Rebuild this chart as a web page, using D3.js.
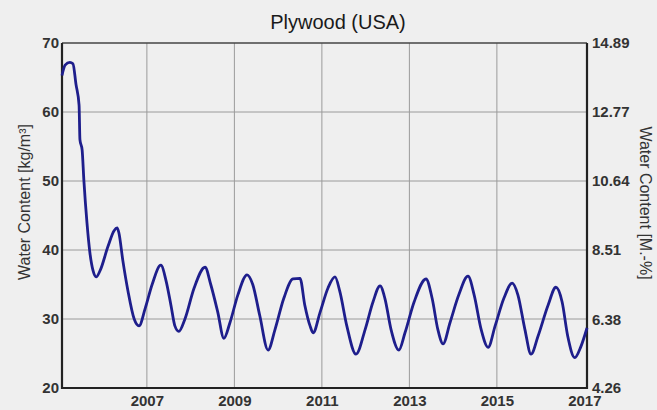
<!DOCTYPE html>
<html>
<head>
<meta charset="utf-8">
<script src="https://cdn.jsdelivr.net/npm/d3@7"></script>
<style>
  body { margin: 0; background: #efefef; overflow: hidden; }
  svg { display: block; }
  text { font-family: "Liberation Sans", Arial, sans-serif; }
</style>
</head>
<body>
<svg width="657" height="410"></svg>
<script>
// years (decimal) and water content in kg/m3
const years = [2005.06, 2005.13, 2005.24, 2005.31, 2005.38, 2005.45, 2005.47, 2005.52, 2005.56, 2005.63,
  2005.70, 2005.77, 2005.84, 2005.93, 2006.11, 2006.25, 2006.32, 2006.36, 2006.45, 2006.57,
  2006.71, 2006.82, 2006.96, 2007.12, 2007.32, 2007.44, 2007.55, 2007.64, 2007.73, 2007.87,
  2008.08, 2008.33, 2008.46, 2008.62, 2008.76, 2008.90, 2009.08, 2009.29, 2009.42, 2009.58,
  2009.77, 2009.93, 2010.13, 2010.34, 2010.50, 2010.61, 2010.73, 2010.80, 2010.96, 2011.14,
  2011.30, 2011.41, 2011.57, 2011.78, 2011.99, 2012.17, 2012.33, 2012.44, 2012.58, 2012.76,
  2012.90, 2013.11, 2013.38, 2013.52, 2013.65, 2013.77, 2013.93, 2014.13, 2014.34, 2014.48,
  2014.64, 2014.80, 2014.96, 2015.16, 2015.35, 2015.48, 2015.64, 2015.78, 2015.94, 2016.17,
  2016.35, 2016.49, 2016.62, 2016.78, 2016.92, 2017.06];
const waterContent = [65.3, 66.8, 67.2, 67.0, 64.0, 61.0, 56.0, 54.5, 50.1, 44.0,
  39.5, 37.0, 36.1, 37.0, 40.5, 42.8, 43.2, 42.5, 38.5, 34.0,
  30.0, 29.0, 31.5, 35.0, 37.8, 35.5, 32.0, 29.0, 28.2, 30.0,
  34.5, 37.5, 35.0, 31.0, 27.2, 29.5, 33.5, 36.4, 35.0, 30.5,
  25.5, 28.5, 33.0, 35.8, 35.9, 32.0, 29.0, 28.0, 31.0, 34.5,
  36.1, 34.0, 29.0, 24.9, 28.5, 32.5, 34.8, 33.0, 28.5, 25.5,
  28.0, 32.5, 35.8, 33.0, 28.5, 26.4, 29.5, 33.5, 36.2, 33.5,
  28.5, 25.9, 29.0, 33.0, 35.2, 33.5, 28.5, 24.9, 27.5, 32.0,
  34.6, 32.5, 27.5, 24.4, 26.0, 28.7];

// axis ticks
const leftTicks = [20, 30, 40, 50, 60, 70];
const rightTicks = [4.26, 6.38, 8.51, 10.64, 12.77, 14.89];
const xTicks = [2007, 2009, 2011, 2013, 2015, 2017];

const svg = d3.select('svg');
const width = +svg.attr('width');
const height = +svg.attr('height');
const margin = { top: 43, right: 70, bottom: 22, left: 62 };
const innerWidth = width - margin.left - margin.right;
const innerHeight = height - margin.top - margin.bottom;

// background
svg.append('rect')
  .attr('width', width)
  .attr('height', height)
  .attr('fill', '#efefef');

const xScale = d3.scaleLinear()
  .domain([2005.06, 2017.06])
  .range([0, innerWidth]);

const yScale = d3.scaleLinear()
  .domain([20, 70])
  .range([innerHeight, 0]);

// second scale for the mass percent on the right
const yRight = d3.scaleLinear()
  .domain([4.26, 14.89])
  .range([innerHeight, 0]);

const g = svg.append('g')
  .attr('transform', `translate(${margin.left}, ${margin.top})`);

// grid lines
g.append('g')
  .selectAll('line')
  .data(leftTicks.slice(1, -1))
  .join('line')
  .attr('x1', 0)
  .attr('x2', innerWidth)
  .attr('y1', d => yScale(d))
  .attr('y2', d => yScale(d))
  .attr('stroke', '#9a9a9a')
  .attr('stroke-width', 1);

g.append('g')
  .selectAll('line')
  .data(xTicks.slice(0, -1))
  .join('line')
  .attr('x1', d => xScale(d))
  .attr('x2', d => xScale(d))
  .attr('y1', 0)
  .attr('y2', innerHeight)
  .attr('stroke', '#9a9a9a')
  .attr('stroke-width', 1);

// left axis
const leftAxis = g.append('g')
  .call(d3.axisLeft(yScale).tickValues(leftTicks).tickSize(0).tickPadding(3));

// right axis
const rightAxis = g.append('g')
  .attr('transform', `translate(${innerWidth}, 0)`)
  .call(d3.axisRight(yRight).tickValues(rightTicks).tickFormat(d3.format('.2f')).tickSize(0).tickPadding(5));

// bottom axis
const bottomAxis = g.append('g')
  .attr('transform', `translate(0, ${innerHeight})`)
  .call(d3.axisBottom(xScale).tickValues(xTicks).tickFormat(d3.format('d')).tickSize(0).tickPadding(7));

[leftAxis, rightAxis, bottomAxis].forEach(a => {
  a.select('.domain').remove();
  a.selectAll('text')
    .attr('font-family', '"Liberation Sans", Arial, sans-serif')
    .attr('font-size', 15)
    .attr('font-weight', 'bold')
    .attr('fill', '#333');
});

// frame round the plot
g.append('line')
  .attr('x1', 0).attr('x2', innerWidth)
  .attr('y1', 0).attr('y2', 0)
  .attr('stroke', '#444').attr('stroke-width', 1.5);
g.append('path')
  .attr('d', `M0,0V${innerHeight}H${innerWidth}V0`)
  .attr('fill', 'none')
  .attr('stroke', '#222')
  .attr('stroke-width', 2.2);

// the water content line
const points = years.map((d, i) => [d, waterContent[i]]);
const line = d3.line()
  .x(d => xScale(d[0]))
  .y(d => yScale(d[1]))
  .curve(d3.curveMonotoneX);

g.append('path')
  .datum(points)
  .attr('d', line)
  .attr('fill', 'none')
  .attr('stroke', '#1e1e8c')
  .attr('stroke-width', 2.8)
  .attr('stroke-linejoin', 'round');

// title
svg.append('text')
  .attr('x', 338)
  .attr('y', 29)
  .attr('text-anchor', 'middle')
  .attr('font-size', 20)
  .attr('fill', '#1a1a1a')
  .text('Plywood (USA)');

// axis titles
svg.append('text')
  .attr('transform', 'translate(30, 202) rotate(-90)')
  .attr('text-anchor', 'middle')
  .attr('font-size', 16)
  .attr('fill', '#333')
  .text('Water Content [kg/m³]');

svg.append('text')
  .attr('transform', 'translate(640, 203) rotate(90)')
  .attr('text-anchor', 'middle')
  .attr('font-size', 16)
  .attr('fill', '#333')
  .text('Water Content [M.-%]');
</script>
</body>
</html>
